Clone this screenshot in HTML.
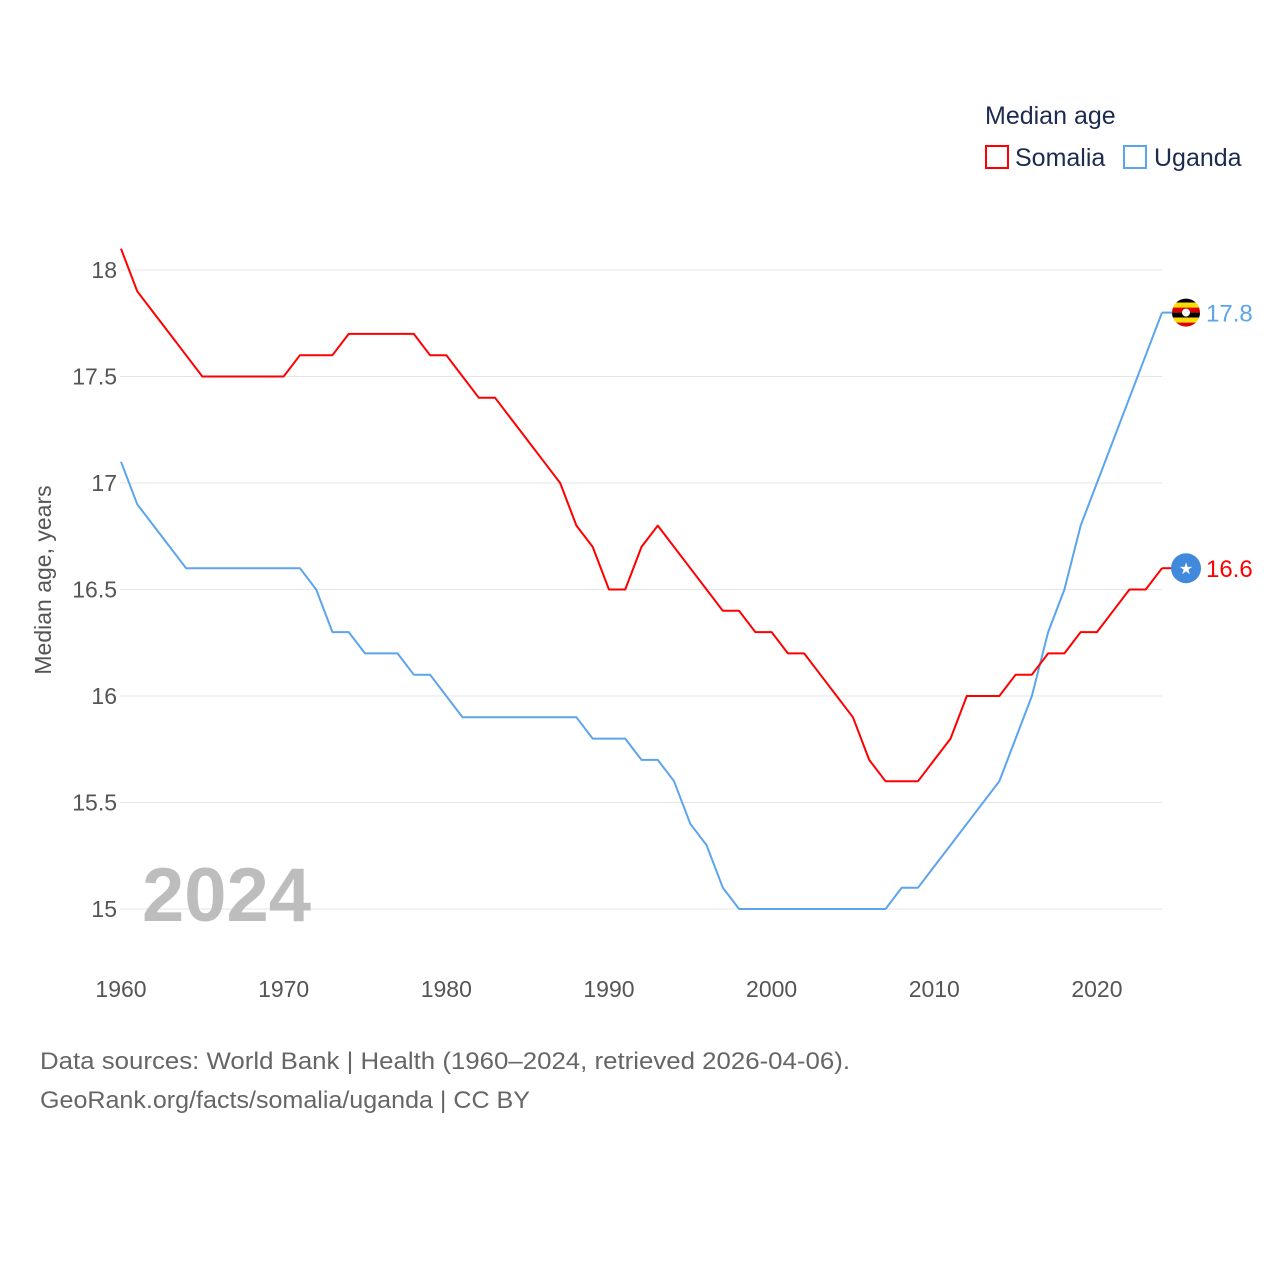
<!DOCTYPE html>
<html><head><meta charset="utf-8"><style>
body{margin:0;background:#fff;}
svg text{font-family:"Liberation Sans",sans-serif;}
</style></head><body>
<svg id="chart" width="1280" height="1280" xmlns="http://www.w3.org/2000/svg">
<text x="985" y="124" font-size="25" fill="#1d2b4f">Median age</text>
<g><rect x="986" y="146" width="22" height="22" fill="none" stroke="#ff0000" stroke-width="2"/><text x="1015" y="166" font-size="25" fill="#1d2b4f">Somalia</text></g>
<g><rect x="1124" y="146" width="22" height="22" fill="none" stroke="#5ba4ee" stroke-width="2"/><text x="1154" y="166" font-size="25" fill="#1d2b4f">Uganda</text></g>
<g id="grid"></g><g id="yticks"></g><g id="xticks"></g>
<text x="0" y="0" transform="translate(51,580) rotate(-90)" text-anchor="middle" font-size="23" fill="#555">Median age, years</text>
<text x="142" y="921" font-size="76" font-weight="bold" fill="#bdbdbd">2024</text>
<g id="series"></g>
<text x="40" y="1069" font-size="24" fill="#666" textLength="810" lengthAdjust="spacingAndGlyphs">Data sources: World Bank | Health (1960–2024, retrieved 2026-04-06).</text>
<text x="40" y="1108" font-size="24" fill="#666" textLength="490" lengthAdjust="spacingAndGlyphs">GeoRank.org/facts/somalia/uganda | CC BY</text>
</svg>
<script>
const years=[];for(let y=1960;y<=2024;y++)years.push(y);
const somalia=[18.1,17.9,17.8,17.7,17.6,17.5,17.5,17.5,17.5,17.5,17.5,17.6,17.6,17.6,17.7,17.7,17.7,17.7,17.7,17.6,17.6,17.5,17.4,17.4,17.3,17.2,17.1,17.0,16.8,16.7,16.5,16.5,16.7,16.8,16.7,16.6,16.5,16.4,16.4,16.3,16.3,16.2,16.2,16.1,16.0,15.9,15.7,15.6,15.6,15.6,15.7,15.8,16.0,16.0,16.0,16.1,16.1,16.2,16.2,16.3,16.3,16.4,16.5,16.5,16.6];
const uganda=[17.1,16.9,16.8,16.7,16.6,16.6,16.6,16.6,16.6,16.6,16.6,16.6,16.5,16.3,16.3,16.2,16.2,16.2,16.1,16.1,16.0,15.9,15.9,15.9,15.9,15.9,15.9,15.9,15.9,15.8,15.8,15.8,15.7,15.7,15.6,15.4,15.3,15.1,15.0,15.0,15.0,15.0,15.0,15.0,15.0,15.0,15.0,15.0,15.1,15.1,15.2,15.3,15.4,15.5,15.6,15.8,16.0,16.3,16.5,16.8,17.0,17.2,17.4,17.6,17.8];
const yTicks=[15,15.5,16,16.5,17,17.5,18];
const yTickLabels=["15","15.5","16","16.5","17","17.5","18"];
const xTicks=[1960,1970,1980,1990,2000,2010,2020];
const X=y=>121+(y-1960)*(1162-121)/64;
const Y=v=>909-(v-15)*213;
const NS="http://www.w3.org/2000/svg";
function mk(t,a,p){const e=document.createElementNS(NS,t);for(const k in a)e.setAttribute(k,a[k]);p.appendChild(e);return e;}
const g=document.getElementById('grid'),yt=document.getElementById('yticks'),xt=document.getElementById('xticks'),s=document.getElementById('series');
yTicks.forEach((v,i)=>{
 const l=mk('line',{x1:120,x2:1162,y1:Y(v),y2:Y(v),stroke:'#e6e6e6','stroke-width':1},g);
 
 
 const t=mk('text',{x:117,y:Y(v)+8,'text-anchor':'end','font-size':23,fill:'#555'},yt);t.textContent=yTickLabels[i];
 
 
});
xTicks.forEach(v=>{
 const t=mk('text',{x:X(v),y:997,'text-anchor':'middle','font-size':23,fill:'#555'},xt);t.textContent=v;
 
 
});
function line(data,color,name){
 const p=mk('polyline',{points:data.map((v,i)=>X(years[i])+','+Y(v)).join(' '),fill:'none',stroke:color,'stroke-width':2,'stroke-linejoin':'round'},s);
 
 
}
line(uganda,'#5ba4ee','uganda-line');
line(somalia,'#ff0000','somalia-line');
function endLabel(v,color,name,flag){
 const y=Y(v);
 mk('line',{x1:1162,x2:1172,y1:y,y2:y,stroke:color,'stroke-width':2},s);
 const c=mk('g',{},s);
 
 
 if(flag==='ug'){
  ['#000','#fcdc04','#d90000','#000','#fcdc04','#d90000'].forEach((col,i)=>mk('rect',{x:1172,y:y-15+i*5,width:30,height:5,fill:col},c));
  mk('circle',{cx:1186,cy:y,r:4,fill:'#fff'},c);
  const m=mk('clipPath',{id:'cp'},c);mk('circle',{cx:1186,cy:y,r:14},m);c.setAttribute('clip-path','url(#cp)');
 } else {
  mk('circle',{cx:1186,cy:y,r:15,fill:'#4189dd'},c);
  const t=mk('text',{x:1186,y:y+6,'text-anchor':'middle','font-size':16,fill:'#fff'},c);t.textContent='★';
 }
 const t=mk('text',{x:1206,y:y+9,'font-size':24,fill:color},s);t.textContent=v.toFixed(1);
 
 
}
endLabel(uganda[uganda.length-1],'#5ba4ee','uganda','ug');
endLabel(somalia[somalia.length-1],'#ff0000','somalia','so');
</script>
</body></html>
